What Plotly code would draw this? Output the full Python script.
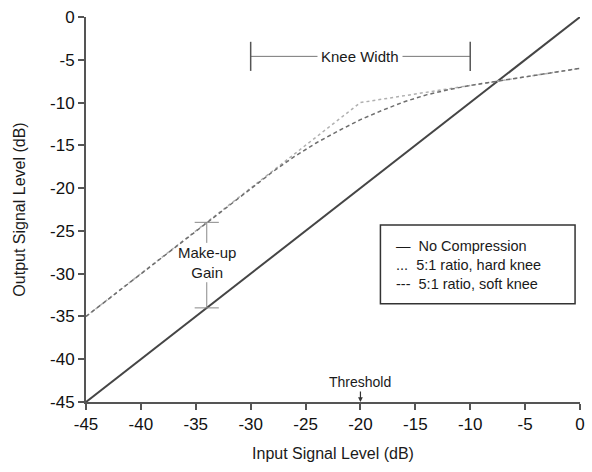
import plotly.graph_objects as go

# Data
input_db = [-45, 0]
no_comp = [-45, 0]

hard_x = [-45, -20, 0]
hard_y = [-35, -10, -6]

soft_x = [-45, -30, -28, -26, -24, -22, -20, -18, -16, -14, -12, -10, 0]
soft_y = [-35, -20, -18.1, -16.3, -14.7, -13.3, -12.0, -10.9, -9.9, -9.1, -8.5, -8.0, -6]

x_ticks = [-45, -40, -35, -30, -25, -20, -15, -10, -5, 0]
y_ticks = [0, -5, -10, -15, -20, -25, -30, -35, -40, -45]

knee_start, knee_end, knee_level = -30, -10, -4.6
threshold = -20
makeup_x, makeup_top, makeup_bottom = -34, -24, -34
makeup_gap = (-26.4, -31.0)

legend_lines = ["—  No Compression", "...  5:1 ratio, hard knee", "---  5:1 ratio, soft knee"]

AX = "#555555"
TXT = "#1a1a1a"
FONT = "Liberation Sans, Arial, sans-serif"

fig = go.Figure()
fig.add_trace(go.Scatter(x=input_db, y=no_comp, mode="lines",
                         line=dict(color="#454545", width=2), showlegend=False, cliponaxis=False))
fig.add_trace(go.Scatter(x=hard_x, y=hard_y, mode="lines",
                         line=dict(color="#b0b0b0", width=1.5, dash="dot"), showlegend=False))
fig.add_trace(go.Scatter(x=soft_x, y=soft_y, mode="lines",
                         line=dict(color="#6e6e6e", width=1.5, dash="4px,3px"), showlegend=False))

shapes = []
# Knee width bracket
shapes.append(dict(type="line", x0=knee_start, x1=knee_end, y0=knee_level, y1=knee_level,
                   line=dict(color="#777777", width=1)))
for xv in (knee_start, knee_end):
    shapes.append(dict(type="line", x0=xv, x1=xv, y0=knee_level + 1.7, y1=knee_level - 1.7,
                       line=dict(color="#555555", width=1.5)))
# Make-up gain bracket (interrupted by its label)
shapes.append(dict(type="line", x0=makeup_x, x1=makeup_x, y0=makeup_top, y1=makeup_gap[0],
                   line=dict(color="#888888", width=1)))
shapes.append(dict(type="line", x0=makeup_x, x1=makeup_x, y0=makeup_gap[1], y1=makeup_bottom,
                   line=dict(color="#888888", width=1)))
for yv in (makeup_top, makeup_bottom):
    shapes.append(dict(type="line", x0=makeup_x - 1.1, x1=makeup_x + 1.1, y0=yv, y1=yv,
                       line=dict(color="#888888", width=1)))
# Legend box
shapes.append(dict(type="rect", xref="paper", yref="paper", x0=0.596, x1=0.99, y0=0.255, y1=0.46,
                   line=dict(color="#333333", width=1.5), fillcolor="white"))

annotations = [
    dict(x=(knee_start + knee_end) / 2, y=knee_level, text="Knee Width", showarrow=False,
         bgcolor="white", borderpad=3, font=dict(family=FONT, size=15, color=TXT)),
    dict(x=makeup_x, y=(makeup_gap[0] + makeup_gap[1]) / 2, text="Make-up<br>Gain", showarrow=False,
         font=dict(family=FONT, size=15, color=TXT)),
    dict(x=threshold, y=-45, text="Threshold", showarrow=True, ax=0, ay=-20,
         arrowhead=2, arrowsize=0.8, arrowwidth=1.2, arrowcolor="#333333",
         font=dict(family=FONT, size=14, color=TXT)),
    dict(x=0.624, y=0.357, xref="paper", yref="paper", xanchor="left", yanchor="middle",
         text="<br>".join(legend_lines), align="left", showarrow=False,
         font=dict(family=FONT, size=14.5, color=TXT)),
]

fig.update_layout(
    width=592, height=472,
    margin=dict(l=86, r=7, t=17, b=70),
    plot_bgcolor="white", paper_bgcolor="white",
    shapes=shapes, annotations=annotations,
    showlegend=False,
    font=dict(family=FONT, color=TXT),
)
fig.update_xaxes(range=[-45, 0], tickvals=x_ticks, ticktext=[str(v) for v in x_ticks],
                 showgrid=False, zeroline=False, showline=True, linecolor=AX, linewidth=2,
                 ticks="outside", ticklen=6, tickwidth=2, tickcolor=AX,
                 tickfont=dict(family=FONT, size=17, color="#111111"),
                 title=dict(text="Input Signal Level (dB)", font=dict(family=FONT, size=16, color=TXT),
                            standoff=14))
fig.update_yaxes(range=[-45, 0], tickvals=y_ticks, ticktext=[str(v) for v in y_ticks],
                 showgrid=False, zeroline=False, showline=True, linecolor=AX, linewidth=2,
                 ticks="outside", ticklen=6, tickwidth=2, tickcolor=AX,
                 tickfont=dict(family=FONT, size=17, color="#111111"),
                 title=dict(text="Output Signal Level (dB)", font=dict(family=FONT, size=16, color=TXT),
                            standoff=20))

fig.write_html("out.html")
